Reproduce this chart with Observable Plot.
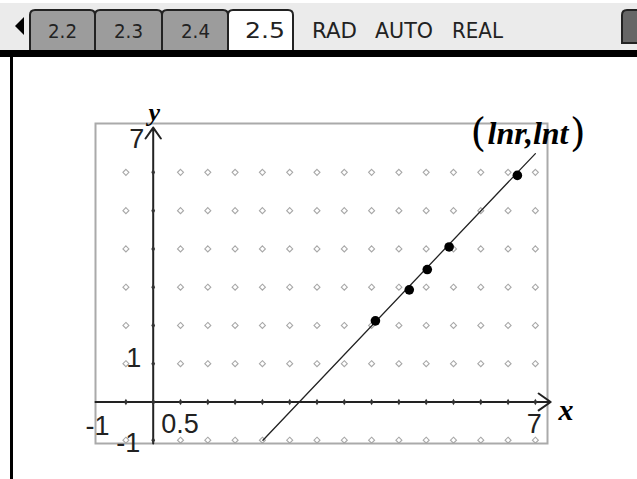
<!DOCTYPE html>
<html><head><meta charset="utf-8">
<script src="https://cdn.jsdelivr.net/npm/d3@7"></script>
<script src="https://cdn.jsdelivr.net/npm/@observablehq/plot@0.6"></script>
<style>
html,body{margin:0;padding:0;background:#fff;width:637px;height:479px;overflow:hidden;}
#wrap{position:relative;width:637px;height:479px;}
#header{position:absolute;left:0;top:0;}
#chart{position:absolute;left:0;top:57px;}
#leftbar{position:absolute;left:10px;top:57px;width:3px;height:422px;background:#000;}
</style></head>
<body><div id="wrap">
<svg id="header" width="637" height="57" font-family="DejaVu Sans">
  <rect x="0" y="3" width="637" height="47" fill="#ebebeb"/>
  <path d="M15,26 L24,17 L24,35 Z" fill="#000"/>
  <path d="M30,51 V15 Q30,10 35,10 H90 Q95,10 95,15 V51" fill="#9c9c9c" stroke="#222" stroke-width="2"/>
  <path d="M95,51 V15 Q95,10 100,10 H157 Q162,10 162,15 V51" fill="#9c9c9c" stroke="#222" stroke-width="2"/>
  <path d="M162,51 V15 Q162,10 167,10 H223 Q228,10 228,15 V51" fill="#9c9c9c" stroke="#222" stroke-width="2"/>
  <path d="M228,51 V15 Q228,10 233,10 H288 Q293,10 293,15 V51" fill="#fff" stroke="#222" stroke-width="2"/>
  <path d="M622,43 V15 Q622,10 627,10 H640 V43 Z" fill="#666" stroke="#222" stroke-width="2"/>
  <rect x="0" y="50" width="637" height="7" fill="#000"/>
  <g fill="#222">
    <text x="48" y="38" font-size="19" textLength="29" lengthAdjust="spacingAndGlyphs">2.2</text>
    <text x="114" y="38" font-size="19" textLength="29" lengthAdjust="spacingAndGlyphs">2.3</text>
    <text x="181" y="38" font-size="19" textLength="29" lengthAdjust="spacingAndGlyphs">2.4</text>
    <text x="245" y="38" font-size="22" textLength="40" lengthAdjust="spacingAndGlyphs">2.5</text>
    <text x="312" y="38" font-size="22" textLength="45" lengthAdjust="spacingAndGlyphs">RAD</text>
    <text x="375" y="38" font-size="22" textLength="58" lengthAdjust="spacingAndGlyphs">AUTO</text>
    <text x="452" y="38" font-size="22" textLength="51" lengthAdjust="spacingAndGlyphs">REAL</text>
  </g>
</svg>
<div id="leftbar"></div>
<div id="chart"></div>
</div>
<script>
// Data
const lnr = [4.07, 4.69, 5.02, 5.42, 6.67];
const lnt = [2.12, 2.93, 3.46, 4.05, 5.92];
const fitX = [2.01, 7.0];
const fitY = [-1.0, 6.49];
const xDomain = [-1.057, 7.222];
const yDomain = [-1.086, 7.277];
const gridX = [-0.5, 0, 0.5, 1, 1.5, 2, 2.5, 3, 3.5, 4, 4.5, 5, 5.5, 6, 6.5, 7];
const gridY = [-1, 0, 1, 2, 3, 4, 5, 6];
const xAxisEnd = 7.28;
const yAxisEnd = 7.17;
const xTickLabels = ["-1", "0.5", "7"];
const xTickValues = [-1, 0, 7];
const yTickLabels = ["7", "1", "-1"];
const yTickValues = [7, 1, -1];
const pointLabelParts = ["(", "lnr,lnt", ")"];
const xName = "x";
const yName = "y";

const points = lnr.map((v, i) => ({x: v, y: lnt[i]}));
const fit = fitX.map((v, i) => ({x: v, y: fitY[i]}));
const grid = [];
for (const gx of gridX) for (const gy of gridY) if (gx !== 0 && gy !== 0) grid.push({x: gx, y: gy});

const tickFont = {fontFamily: "Liberation Sans", fontSize: 27, fill: "#222", lineAnchor: "bottom"};
const serifBI = {fontFamily: "Liberation Serif", fontWeight: "bold", fontStyle: "italic", fill: "#000", lineAnchor: "bottom"};

// label placement styles (offsets in px)
const xTickStyle = [
  {textAnchor: "start", dx: -13, dy: 33},
  {textAnchor: "start", dx: 8, dy: 31.5},
  {textAnchor: "middle", dx: -1, dy: 31.5}
];
const yTickStyle = [
  {textAnchor: "end", dx: -9, dy: 14},
  {textAnchor: "end", dx: -12, dy: 3},
  {textAnchor: "end", dx: -13, dy: 12}
];

const marks = [
  Plot.frame({stroke: "#aaa", strokeWidth: 2}),
  Plot.dot(grid, {x: "x", y: "y", symbol: "diamond2", r: 2.7, stroke: "#a8a8a8", strokeWidth: 1.1}),
  Plot.arrow([{x1: xDomain[0], y1: 0, x2: xAxisEnd, y2: 0}], {x1: "x1", y1: "y1", x2: "x2", y2: "y2", stroke: "#222", strokeWidth: 2, headLength: 11, headAngle: 70}),
  Plot.arrow([{x1: 0, y1: yDomain[0], x2: 0, y2: yAxisEnd}], {x1: "x1", y1: "y1", x2: "x2", y2: "y2", stroke: "#222", strokeWidth: 2, headLength: 10, headAngle: 70}),
  Plot.dot(gridX, {x: d => d, y: () => 0, symbol: "diamond", r: 2, fill: "#333"}),
  Plot.dot(gridY, {x: () => 0, y: d => d, symbol: "diamond", r: 2, fill: "#333"}),
  Plot.line(fit, {x: "x", y: "y", stroke: "#222", strokeWidth: 1.3}),
  Plot.dot(points, {x: "x", y: "y", r: 4.8, fill: "#000"})
];
xTickLabels.forEach((t, i) => {
  marks.push(Plot.text([t], {x: () => xTickValues[i], y: () => 0, text: d => d, ...tickFont, ...xTickStyle[i]}));
});
yTickLabels.forEach((t, i) => {
  marks.push(Plot.text([t], {x: () => 0, y: () => yTickValues[i], text: d => d, ...tickFont, ...yTickStyle[i]}));
});
marks.push(Plot.text([yName], {x: () => 0, y: () => yDomain[1], text: d => d, ...serifBI, fontSize: 26, textAnchor: "middle", dx: 1, dy: -3}));
marks.push(Plot.text([xName], {x: () => xDomain[1], y: () => 0, text: d => d, ...serifBI, fontSize: 30, textAnchor: "middle", dx: 18.5, dy: 18.5}));
marks.push(Plot.text([pointLabelParts[1]], {x: () => 7, y: () => yDomain[1], text: d => d, ...serifBI, fontSize: 32, textAnchor: "middle", dx: -7.4, dy: 20}));
marks.push(Plot.text([pointLabelParts[0]], {x: () => 7, y: () => yDomain[1], text: d => d, fontFamily: "DejaVu Serif", fontWeight: 300, fontSize: 40, fill: "#000", lineAnchor: "bottom", textAnchor: "middle", dx: -57, dy: 22}));
marks.push(Plot.text([pointLabelParts[2]], {x: () => 7, y: () => yDomain[1], text: d => d, fontFamily: "DejaVu Serif", fontWeight: 300, fontSize: 40, fill: "#000", lineAnchor: "bottom", textAnchor: "middle", dx: 42.5, dy: 22}));

const chart = Plot.plot({
  width: 637,
  height: 422,
  marginTop: 66,
  marginBottom: 36,
  marginLeft: 95,
  marginRight: 90,
  x: {domain: xDomain, axis: null},
  y: {domain: yDomain, axis: null},
  style: {background: "transparent", overflow: "visible"},
  marks
});
document.getElementById("chart").appendChild(chart);
</script>
</body></html>
